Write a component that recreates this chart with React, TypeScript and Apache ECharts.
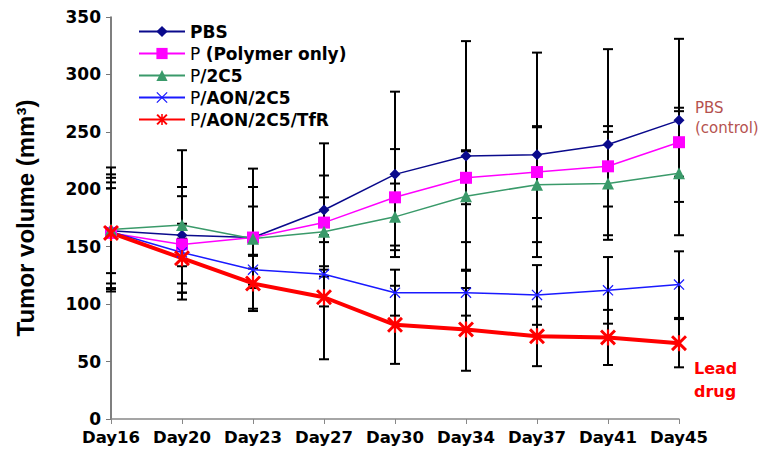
import React, { useEffect, useRef } from "react";
import * as echarts from "echarts";

const days = ["Day16", "Day20", "Day23", "Day27", "Day30", "Day34", "Day37", "Day41", "Day45"];
const seriesNames = ["PBS", "P (Polymer only)", "P/2C5", "P/AON/2C5", "P/AON/2C5/TfR"];

const pbs = [164, 160, 158, 182, 213, 229, 230, 239, 260];
const polymer = [162, 152, 158, 171, 193, 210, 215, 220, 241];
const p2c5 = [165, 169, 157, 163, 176, 194, 204, 205, 214];
const aon = [163, 145, 130, 126, 110, 110, 108, 112, 117];
const tfr = [162, 140, 118, 106, 82, 78, 72, 71, 66];

const pbsErr = [37, 42, 44, 58, 72, 100, 89, 83, 71];
const polymerErr = [48, 42, 27, 41, 42, 23, 40, 35, 30];
const p2c5Err = [54, 65, 61, 30, 29, 40, 50, 45, 54];
const aonErr = [50, 12, 13, 28, 20, 20, 26, 29, 29];
const tfrErr = [44, 30, 24, 54, 34, 36, 26, 24, 21];

const yTicks = { min: 0, max: 350, interval: 50 };

const X_PATH =
  "path://M0,0.8 L0.8,0 L10,9.2 L9.2,10 Z M9.2,0 L10,0.8 L0.8,10 L0,9.2 Z";
const ASTERISK_PATH =
  "path://M0,1.3 L1.3,0 L10,8.7 L8.7,10 Z M8.7,0 L10,1.3 L1.3,10 L0,8.7 Z M4.3,0 L5.7,0 L5.7,10 L4.3,10 Z";

export default function App() {
  const ref = useRef<HTMLDivElement>(null);

  useEffect(() => {
    if (!ref.current) return;
    document.body.style.margin = "0";
    const chart = echarts.init(ref.current, undefined, { renderer: "svg" });

    const values = [pbs, polymer, p2c5, aon, tfr];
    const errs = [pbsErr, polymerErr, p2c5Err, aonErr, tfrErr];
    const errData: number[][] = [];
    values.forEach((vals, s) => {
      vals.forEach((v, i) => errData.push([i, v, errs[s][i]]));
    });

    const legendLabels: Record<string, string> = {
      "PBS": "{b|PBS}",
      "P (Polymer only)": "{n|P }{b|(Polymer only)}",
      "P/2C5": "{n|P}{b|/2C5}",
      "P/AON/2C5": "{n|P}{b|/AON/2C5}",
      "P/AON/2C5/TfR": "{n|P}{b|/AON/2C5/TfR}",
    };

    const lineCommon = {
      type: "line" as const,
      z: 3,
      symbolKeepAspect: true,
    };

    chart.setOption({
      animation: false,
      grid: { left: 111, right: 89, top: 17, bottom: 32, containLabel: false },
      legend: {
        data: seriesNames,
        orient: "vertical",
        left: 133,
        top: 18,
        itemWidth: 46,
        itemHeight: 14,
        itemGap: 5,
        formatter: (name: string) => legendLabels[name] || name,
        textStyle: {
          fontFamily: "DejaVu Sans",
          fontSize: 17,
          color: "#000",
          rich: {
            n: { fontFamily: "DejaVu Sans", fontSize: 17, fontWeight: "normal", color: "#000" },
            b: { fontFamily: "DejaVu Sans", fontSize: 17, fontWeight: "bold", color: "#000" },
          },
        },
      },
      xAxis: {
        type: "category",
        data: days,
        boundaryGap: false,
        axisLine: { lineStyle: { color: "#888", width: 1.5 } },
        axisTick: { show: true, alignWithLabel: true, length: 5, interval: 0, lineStyle: { color: "#888" } },
        axisLabel: {
          color: "#000",
          fontFamily: "DejaVu Sans",
          fontWeight: "bold",
          fontSize: 16.5,
          margin: 10,
          interval: 0,
        },
        splitLine: { show: false },
      },
      yAxis: {
        type: "value",
        min: yTicks.min,
        max: yTicks.max,
        interval: yTicks.interval,
        name: "Tumor volume (mm³)",
        nameLocation: "middle",
        nameGap: 74,
        nameTextStyle: {
          fontFamily: "Liberation Sans",
          fontWeight: "bold",
          fontSize: 24,
          color: "#000",
        },
        axisLine: { show: true, lineStyle: { color: "#555", width: 1.5 } },
        axisTick: { show: true, length: 5, lineStyle: { color: "#777" } },
        axisLabel: {
          color: "#000",
          fontFamily: "DejaVu Sans",
          fontWeight: "bold",
          fontSize: 17,
          margin: 10,
        },
        splitLine: { show: false },
      },
      series: [
        {
          type: "custom",
          name: "errors",
          z: 1,
          silent: true,
          data: errData,
          encode: { x: 0, y: 1 },
          renderItem: (params: any, api: any) => {
            const x = api.value(0);
            const v = api.value(1);
            const e = api.value(2);
            const top = api.coord([x, v + e]);
            const bot = api.coord([x, v - e]);
            const w = 5;
            const st = { stroke: "#000", lineWidth: 2 };
            return {
              type: "group",
              children: [
                { type: "line", shape: { x1: top[0], y1: top[1], x2: bot[0], y2: bot[1] }, style: st },
                { type: "line", shape: { x1: top[0] - w, y1: top[1], x2: top[0] + w, y2: top[1] }, style: st },
                { type: "line", shape: { x1: bot[0] - w, y1: bot[1], x2: bot[0] + w, y2: bot[1] }, style: st },
              ],
            };
          },
        },
        {
          ...lineCommon,
          name: "PBS",
          data: pbs,
          symbol: "diamond",
          symbolSize: 11,
          itemStyle: { color: "#0A0A8C" },
          lineStyle: { color: "#0A0A8C", width: 1.5 },
        },
        {
          ...lineCommon,
          name: "P (Polymer only)",
          data: polymer,
          symbol: "rect",
          symbolSize: 12,
          itemStyle: { color: "#FF00FF" },
          lineStyle: { color: "#FF00FF", width: 1.5 },
        },
        {
          ...lineCommon,
          name: "P/2C5",
          data: p2c5,
          symbol: "triangle",
          symbolSize: 12,
          itemStyle: { color: "#3A9A6A" },
          lineStyle: { color: "#3A9A6A", width: 1.5 },
        },
        {
          ...lineCommon,
          name: "P/AON/2C5",
          data: aon,
          symbol: X_PATH,
          symbolSize: 11,
          itemStyle: { color: "#1A1AFF" },
          lineStyle: { color: "#1A1AFF", width: 1.5 },
        },
        {
          ...lineCommon,
          name: "P/AON/2C5/TfR",
          data: tfr,
          symbol: ASTERISK_PATH,
          symbolSize: 16,
          itemStyle: { color: "#FF0000" },
          lineStyle: { color: "#FF0000", width: 4 },
        },
      ],
      graphic: [
        {
          type: "text",
          left: 695,
          top: 98,
          style: {
            text: "PBS\n(control)",
            fill: "#B5524F",
            fontFamily: "DejaVu Sans",
            fontSize: 15,
            lineHeight: 20,
          },
        },
        {
          type: "text",
          left: 694,
          top: 357,
          style: {
            text: "Lead\ndrug",
            fill: "#FF0000",
            fontFamily: "DejaVu Sans",
            fontWeight: "bold",
            fontSize: 16,
            lineHeight: 23,
          },
        },
      ],
    });

    return () => chart.dispose();
  }, []);

  return <div ref={ref} style={{ width: 768, height: 451 }} />;
}
